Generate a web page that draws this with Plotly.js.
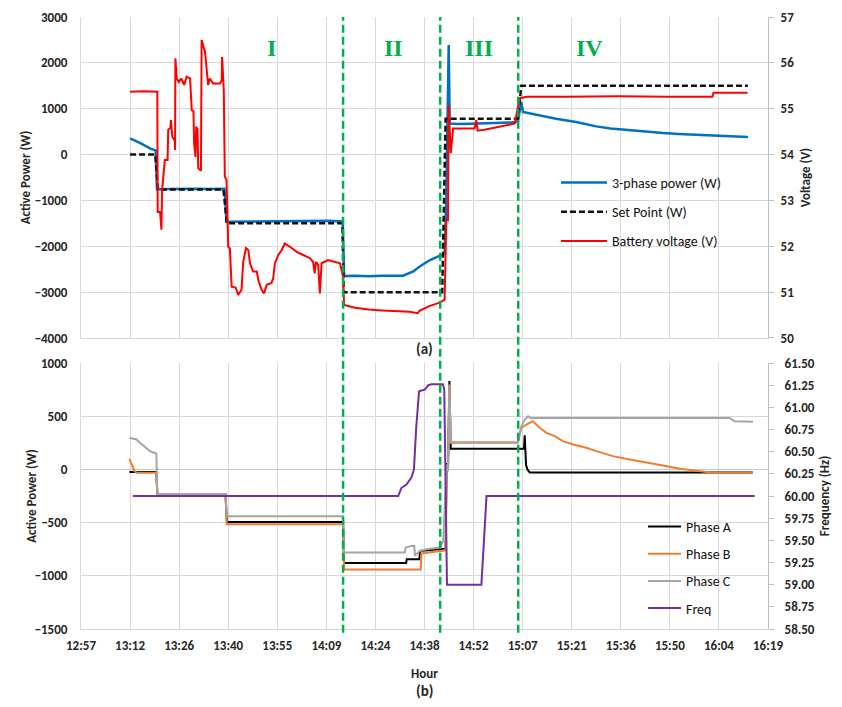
<!DOCTYPE html>
<html><head><meta charset="utf-8">
<script src="https://cdn.plot.ly/plotly-3.0.1.min.js"></script>
<style>html,body{margin:0;padding:0;background:#fff}#chart{width:842px;height:707px}</style>
</head><body><div id="chart"></div>
<script>
// Time is in minutes since midnight
const tickMin = [777.6, 792.0, 806.4, 820.8, 835.2, 849.6, 864.0, 878.4, 892.8, 907.2, 921.6, 936.0, 950.4, 964.8, 979.2];
const tickLabels = ["12:57","13:12","13:26","13:40","13:55","14:09","14:24","14:38","14:52","15:07","15:21","15:36","15:50","16:04","16:19"];

// Stage boundaries (green dashed) and stage labels
const stageBounds = [854.5, 883.0, 905.9];
const stageNames = ["I", "II", "III", "IV"];
const stageLabelT = [833.5, 869.4, 894.5, 926.9];

// (a) 3-phase power (W)
const powerT = [792.0, 793.5, 795.0, 796.5, 798.0, 799.5, 799.9, 803, 806, 809, 812, 815, 818, 819.7, 820.3, 825, 830, 835, 840, 845, 850, 854.4, 854.8, 858, 862, 866, 870, 872.1, 875.1, 877.0, 880.0, 882.9, 884.3, 884.8, 885.2, 885.5, 885.8, 888, 892, 896, 900, 904, 905.8, 906.4, 906.8, 907.3, 912, 917, 922.9, 928.8, 933, 938.6, 943, 948.4, 953, 958.2, 963, 967.9, 973.3];
const powerW = [355, 310, 250, 190, 130, 90, -760, -750, -745, -755, -745, -750, -740, -745, -1465, -1460, -1455, -1460, -1450, -1455, -1445, -1460, -2650, -2640, -2655, -2645, -2650, -2640, -2550, -2440, -2300, -2210, -2160, -1000, 700, 2390, 680, 665, 670, 675, 690, 700, 720, 1000, 1150, 927, 850, 780, 710, 615, 570, 529, 500, 471, 450, 434, 420, 400, 384];

// (a) Set point (W)
const spT = [792.0, 799.4, 800.2, 819.4, 820.4, 854.3, 854.7, 883.6, 884.6, 905.8, 906.8, 973.3];
const spW = [0, 0, -760, -760, -1500, -1500, -3000, -3000, 780, 780, 1500, 1500];

// (a) Battery voltage (V)
const voltT = [792.0, 796, 800.0, 800.1, 800.8, 801.2, 801.4, 802.2, 803.0, 803.2, 803.8, 804.0, 804.4, 805.1, 805.2, 805.3, 805.7, 806.3, 807.0, 807.9, 808.6, 809.6, 810.1, 810.6, 810.8, 811.2, 811.4, 811.8, 812.0, 812.8, 813.0, 813.5, 814.0, 814.5, 814.9, 815.4, 816.4, 818.4, 818.9, 819.0, 819.5, 819.8, 820.3, 820.8, 821.3, 821.8, 823.0, 823.7, 824.7, 825.2, 826.0, 826.7, 827.2, 828.1, 829.2, 829.6, 830.6, 831.3, 832.1, 833.5, 834.0, 834.5, 835.5, 836.5, 837.4, 838.9, 840.9, 842.8, 844.8, 845.7, 846.2, 846.5, 847.2, 847.7, 848.2, 850.1, 852.1, 853.6, 854.5, 854.8, 858, 862, 866, 870, 874, 876.4, 877, 880, 882.4, 884.3, 884.8, 885.3, 885.5, 886.1, 886.8, 893.1, 893.6, 894.0, 896, 900, 904.9, 906.3, 908.4, 920, 935, 950, 962.9, 963.2, 973.2];
const voltV = [55.37, 55.38, 55.37, 52.75, 52.75, 52.36, 53.23, 53.88, 53.88, 54.54, 54.58, 54.75, 54.39, 54.30, 54.10, 56.10, 55.66, 55.58, 55.66, 55.52, 55.70, 55.66, 54.97, 54.95, 54.25, 53.95, 54.61, 54.55, 53.70, 53.65, 56.50, 56.39, 56.24, 55.84, 55.52, 55.66, 55.55, 55.55, 55.62, 56.13, 55.41, 53.52, 53.45, 51.99, 51.95, 51.12, 51.10, 50.94, 51.05, 51.66, 51.96, 51.92, 51.63, 51.45, 51.45, 51.27, 51.05, 50.97, 51.16, 51.20, 51.30, 51.63, 51.81, 51.92, 52.06, 51.99, 51.88, 51.81, 51.74, 51.66, 51.41, 51.66, 51.60, 50.97, 51.63, 51.70, 51.66, 51.63, 51.34, 50.72, 50.66, 50.62, 50.60, 50.58, 50.57, 50.54, 50.60, 50.70, 50.76, 50.83, 52.57, 52.57, 55.08, 54.03, 54.57, 54.57, 54.75, 54.52, 54.54, 54.60, 54.68, 55.23, 55.26, 55.26, 55.27, 55.26, 55.26, 55.35, 55.35];

// (b) Phase A (W)
const phaseAT = [791.8, 799.7, 800.0, 820.0, 820.4, 854.5, 854.8, 873.0, 873.2, 876.9, 877.1, 884.6, 884.9, 885.3, 885.7, 886.1, 905.8, 907.6, 907.8, 908.2, 908.6, 909.3, 974.8];
const phaseAW = [-25, -25, -230, -230, -495, -495, -880, -880, -844, -844, -766, -745, 60, 0, 830, 195, 195, 195, 320, 40, 0, -30, -30];

// (b) Phase B (W)
const phaseBT = [791.8, 792.3, 793.3, 794.0, 799.7, 800.0, 820.0, 820.4, 854.5, 854.8, 877.3, 877.5, 884.6, 884.9, 885.3, 885.7, 886.1, 905.8, 906.8, 908.3, 910.2, 912.2, 914.2, 916.6, 919.0, 922.0, 925.9, 928.8, 933.7, 938.6, 943.5, 948.4, 953.3, 958.2, 963.0, 974.8];
const phaseBW = [100, 62, -16, -31, -31, -250, -250, -515, -515, -940, -940, -790, -760, 50, -20, 800, 250, 250, 391, 422, 453, 391, 344, 313, 266, 234, 203, 172, 125, 94, 62, 37, 6, -16, -31, -31];

// (b) Phase C (W)
const phaseCT = [791.8, 793.9, 794.9, 795.9, 796.9, 797.8, 799.7, 800.0, 820.0, 820.4, 854.5, 854.8, 872.6, 872.9, 874.6, 875.4, 875.6, 877.0, 879.0, 882.9, 883.9, 884.9, 885.3, 885.7, 886.1, 905.8, 906.8, 907.8, 908.8, 909.5, 967.9, 969.4, 974.8];
const phaseCW = [297, 281, 250, 225, 203, 172, 150, -230, -230, -440, -440, -780, -780, -734, -719, -719, -810, -766, -750, -734, -672, 40, -10, 790, 256, 256, 406, 469, 500, 484, 484, 453, 447];

// (b) Frequency (Hz)
const freqT = [792.8, 870.7, 871.6, 873.1, 874.6, 875.3, 876.0, 876.8, 877.5, 878.5, 879.5, 880.4, 883.8, 884.2, 885.0, 895.1, 896.6, 975.3];
const freqHz = [60.0, 60.0, 60.09, 60.13, 60.21, 60.30, 60.79, 61.18, 61.19, 61.20, 61.25, 61.26, 61.26, 61.20, 59.0, 59.0, 60.0, 60.0];

const FONT = 'Carlito, Lato, "Open Sans", sans-serif';
const TXT = '#262626';
const GRID = '#d9d9d9';
const tickFont = {family: FONT, size: 13, color: TXT, weight: 'bold'};
const titleFont = {family: FONT, size: 13, color: TXT, weight: 'bold'};

const traces = [
  {x: powerT, y: powerW, name: '3-phase power (W)', type: 'scatter', mode: 'lines', xaxis: 'x', yaxis: 'y', legend: 'legend', legendgroup: 'a1', line: {color: '#0070C0', width: 2.5}},
  {x: spT, y: spW, name: 'Set Point (W)', type: 'scatter', mode: 'lines', xaxis: 'x', yaxis: 'y', legend: 'legend', legendgroup: 'a2', line: {color: '#111', width: 2.5, dash: '6px,3px'}},
  {x: voltT, y: voltV, name: 'Battery voltage (V)', type: 'scatter', mode: 'lines', xaxis: 'x', yaxis: 'y2', legend: 'legend', legendgroup: 'a3', line: {color: '#FF0000', width: 2}},
  {x: phaseAT, y: phaseAW, name: 'Phase A', type: 'scatter', mode: 'lines', xaxis: 'x2', yaxis: 'y3', legend: 'legend2', legendgroup: 'b1', line: {color: '#000000', width: 2}},
  {x: phaseBT, y: phaseBW, name: 'Phase B', type: 'scatter', mode: 'lines', xaxis: 'x2', yaxis: 'y3', legend: 'legend2', legendgroup: 'b2', line: {color: '#ED7D31', width: 2}},
  {x: phaseCT, y: phaseCW, name: 'Phase C', type: 'scatter', mode: 'lines', xaxis: 'x2', yaxis: 'y3', legend: 'legend2', legendgroup: 'b3', line: {color: '#A5A5A5', width: 2}},
  {x: freqT, y: freqHz, name: 'Freq', type: 'scatter', mode: 'lines', xaxis: 'x2', yaxis: 'y4', legend: 'legend2', legendgroup: 'b4', line: {color: '#7030A0', width: 2}}
];

const xBase = {range: [777.6, 979.2], tickvals: tickMin, showgrid: true, gridcolor: GRID, gridwidth: 1, zeroline: false, showline: true, linecolor: GRID, ticks: '', fixedrange: true};

const layout = {
  width: 842, height: 707,
  margin: {l: 81, r: 74, t: 17, b: 78},
  paper_bgcolor: '#ffffff', plot_bgcolor: 'rgba(0,0,0,0)',
  font: {family: FONT, size: 13, color: TXT},
  showlegend: true,
  xaxis: Object.assign({}, xBase, {domain: [0, 1], anchor: 'y', showticklabels: false}),
  yaxis: {domain: [0.4755, 1], anchor: 'x', range: [-4000, 3000], dtick: 1000, tick0: 0, showgrid: true, gridcolor: GRID, zeroline: false, showline: true, linecolor: GRID, ticks: '', tickfont: tickFont, ticklabelstandoff: 10, title: {text: 'Active Power (W)', font: titleFont}},
  yaxis2: {overlaying: 'y', side: 'right', anchor: 'x', range: [50, 57], dtick: 1, showgrid: false, zeroline: false, showline: true, linecolor: '#bfbfbf', ticks: 'outside', ticklen: 5, tickcolor: '#bfbfbf', tickfont: tickFont, ticklabelstandoff: 4, title: {text: 'Voltage (V)', font: titleFont}},
  xaxis2: Object.assign({}, xBase, {domain: [0, 1], anchor: 'y3', ticktext: tickLabels, tickfont: tickFont, ticklabelstandoff: 4, title: {text: 'Hour', font: titleFont}}),
  yaxis3: {domain: [0, 0.4346], anchor: 'x2', range: [-1500, 1000], dtick: 500, tick0: 0, showgrid: true, gridcolor: GRID, zeroline: true, zerolinecolor: '#c8c8c8', showline: true, linecolor: GRID, ticks: '', tickfont: tickFont, ticklabelstandoff: 10, title: {text: 'Active Power (W)', font: titleFont}},
  yaxis4: {overlaying: 'y3', side: 'right', anchor: 'x2', range: [58.5, 61.5], dtick: 0.25, tick0: 58.5, tickformat: '.2f', showgrid: false, zeroline: false, showline: true, linecolor: '#bfbfbf', ticks: 'outside', ticklen: 5, tickcolor: '#bfbfbf', tickfont: tickFont, ticklabelstandoff: 8, title: {text: 'Frequency (Hz)', font: titleFont}},
  legend: {x: 0.6914, y: 0.755, xanchor: 'left', yanchor: 'top', bgcolor: 'rgba(0,0,0,0)', font: {family: FONT, size: 14, color: '#111'}, itemwidth: 46, tracegroupgap: 8, traceorder: 'grouped'},
  legend2: {x: 0.818, y: 0.193, xanchor: 'left', yanchor: 'top', bgcolor: 'rgba(0,0,0,0)', font: {family: FONT, size: 14, color: '#111'}, itemwidth: 33, tracegroupgap: 6, traceorder: 'grouped'},
  shapes: stageBounds.map(t => ({type: 'line', xref: 'x', yref: 'paper', x0: t, x1: t, y0: -0.006, y1: 1, layer: 'above', line: {color: '#00B050', width: 2.5, dash: '8px,4px'}})),
  annotations: stageNames.map((s, i) => ({text: s, x: stageLabelT[i], xref: 'x', y: 0.949, yref: 'paper', showarrow: false, xanchor: 'center', yanchor: 'middle', font: {family: '"Liberation Serif", "DejaVu Serif", serif', size: 24, color: '#00B050', weight: 'bold'}})).concat([
    {text: '(a)', x: 0.5007, xref: 'paper', y: 0.4575, yref: 'paper', showarrow: false, xanchor: 'center', yanchor: 'middle', font: {family: FONT, size: 15, color: TXT, weight: 'bold'}},
    {text: '(b)', x: 0.5007, xref: 'paper', y: -0.1010, yref: 'paper', showarrow: false, xanchor: 'center', yanchor: 'middle', font: {family: FONT, size: 15, color: TXT, weight: 'bold'}}
  ])
};

Plotly.newPlot('chart', traces, layout, {displayModeBar: false, staticPlot: true});
</script>
</body></html>
